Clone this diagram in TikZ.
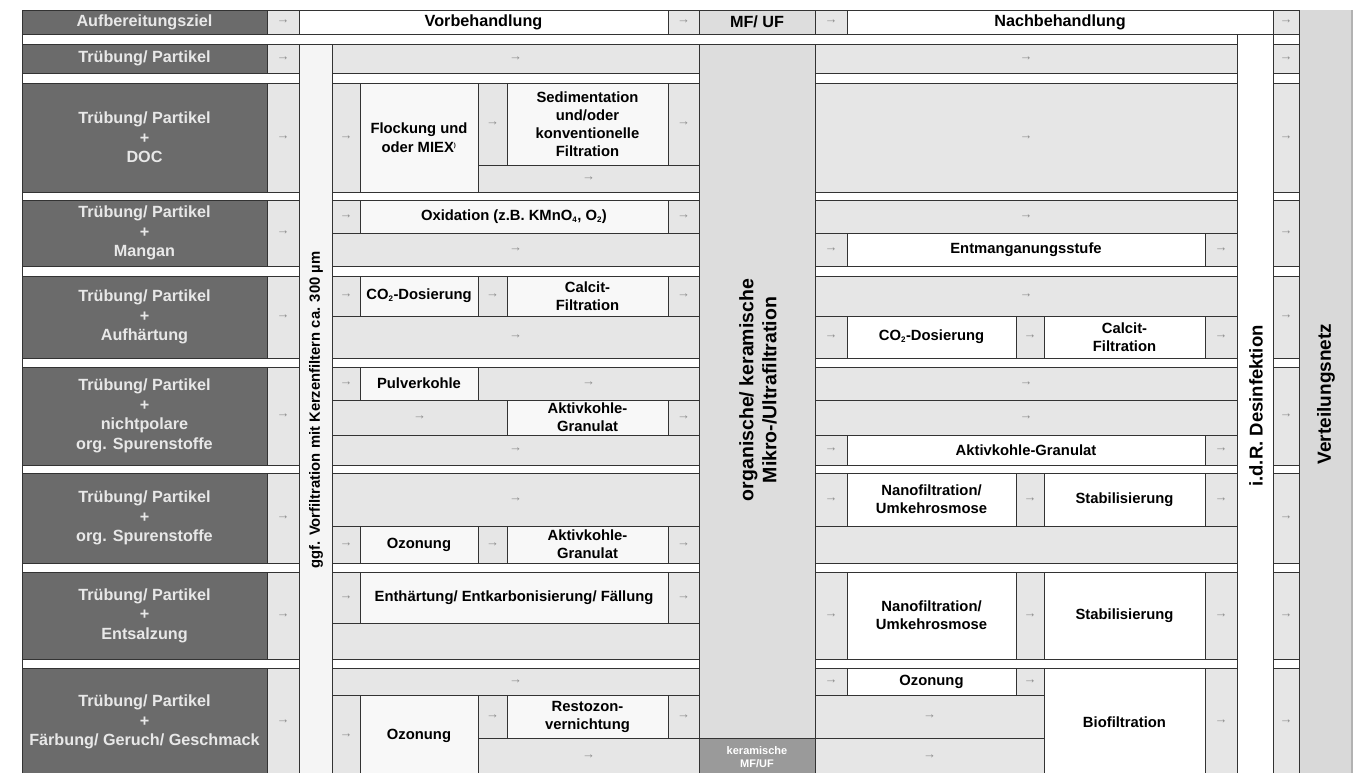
\documentclass[tikz,border=0pt]{standalone}
\usepackage{fontspec}
\setmainfont{Liberation Sans}
\definecolor{goalgray}{HTML}{6B6B6B}
\definecolor{goaltext}{HTML}{E8E8E8}
\definecolor{barfill}{HTML}{E6E6E6}
\definecolor{boxfill}{HTML}{F8F8F8}
\definecolor{prefill}{HTML}{F5F5F5}
\definecolor{mffill}{HTML}{DDDDDD}
\definecolor{kerafill}{HTML}{9A9A9A}
\definecolor{vnfill}{HTML}{D9D9D9}
\definecolor{edge}{HTML}{333333}
\definecolor{arrgray}{HTML}{8A8A8A}
\newcommand\arr{{\bfseries\fontsize{13}{13}\selectfont\color{arrgray}→}}
\newcommand\sub[1]{\textsubscript{\fontsize{8}{8}\selectfont #1}}
\tikzset{
  sz/.style 2 args={minimum width=#1pt, minimum height=#2pt},
  cell/.style={anchor=north west, inner sep=0pt, outer sep=0pt, draw=edge, line width=0.9pt},
  goal/.style={cell, fill=goalgray, text=goaltext, align=center, font=\bfseries\fontsize{16.2}{19.5}\selectfont},
  acell/.style={cell, fill=barfill},
  bar/.style={acell},
  box/.style={cell, fill=boxfill, align=center, font=\bfseries\fontsize{14.8}{18}\selectfont},
  nbox/.style={box, fill=white},
  head/.style={box, fill=white, font=\bfseries\fontsize{16.2}{19}\selectfont},
  sep/.style={cell, fill=white, line width=0.6pt},
  col/.style={cell},
  kera/.style={cell, fill=kerafill, text=white, align=center, font=\bfseries\fontsize{11}{13.5}\selectfont},
  vtext/.style 2 args={rotate=90, anchor=center, align=center, inner sep=0pt, font=\bfseries\fontsize{#1}{#2}\selectfont},
}
\begin{document}
\begin{tikzpicture}[x=1pt, y=-1pt]
\useasboundingbox (0,0) rectangle (1370,772);

\node[col, fill=prefill, sz={33}{742}] (pre) at (299,34) {};
\node[col, fill=mffill, sz={116}{742}] (mf) at (699,34) {};
\node[col, fill=white, sz={36}{742}] (des) at (1237,34) {};
\node[cell, draw=none, fill=vnfill, sz={53}{766}] (vn) at (1299,10) {};
\draw[line width=2pt, draw=black!30] (vn.north east) -- (vn.south east);

\node[goal, sz={245}{24}] (hgoal) at (22,10) {Aufbereitungsziel};
\node[acell, sz={32}{24}] (ha1) at (267,10) {\arr};
\node[head, sz={369}{24}] (hvor) at (299,10) {Vorbehandlung};
\node[acell, sz={31}{24}] (ha2) at (668,10) {\arr};
\node[head, fill=mffill, sz={116}{24}] (hmf) at (699,10) {MF/ UF};
\node[acell, sz={32}{24}] (ha3) at (815,10) {\arr};
\node[head, sz={426}{24}] (hnach) at (847,10) {Nachbehandlung};
\node[acell, sz={26}{24}] (ha4) at (1273,10) {\arr};

\node[sep, sz={1215}{10}] (s0a) at (22,34) {};
\node[sep, sz={26}{10}] (s0b) at (1273,34) {};
\foreach \y/\h [count=\i] in {73/10, 192/8, 266/10, 358/9, 465/8, 563/9, 659/9} {
  \node[sep, sz={277}{\h}] (sa\i) at (22,\y) {};
  \node[sep, sz={367}{\h}] (sb\i) at (332,\y) {};
  \node[sep, sz={422}{\h}] (sc\i) at (815,\y) {};
  \node[sep, sz={26}{\h}] (sd\i) at (1273,\y) {};
}
\foreach \y/\h [count=\i] in {44/29, 83/109, 200/66, 276/82, 367/98, 473/90, 572/87, 668/108} {
  \node[acell, sz={32}{\h}] (al\i) at (267,\y) {\arr};
  \node[acell, sz={26}{\h}] (ar\i) at (1273,\y) {\arr};
}

\node[goal, sz={245}{29}] (g1) at (22,44) {Trübung/ Partikel};
\node[bar, sz={367}{29}] (v1) at (332,44) {\arr};
\node[bar, sz={422}{29}] (n1) at (815,44) {\arr};

\node[goal, sz={245}{109}] (g2) at (22,83) {Trübung/ Partikel\\+\\DOC};
\node[acell, sz={28}{109}] (v2a) at (332,83) {\arr};
\node[box, sz={118}{109}, font=\bfseries\fontsize{14.8}{19}\selectfont] (v2b) at (360,83) {Flockung und\\oder MIEX\textsuperscript{\fontsize{6}{6}\selectfont )}};
\node[acell, sz={29}{82}] (v2c) at (478,83) {\arr};
\node[box, sz={161}{82}] (v2d) at (507,83) {Sedimentation\\und/oder\\konventionelle\\Filtration};
\node[acell, sz={31}{82}] (v2e) at (668,83) {\arr};
\node[bar, sz={221}{27}] (v2f) at (478,165) {\arr};
\node[bar, sz={422}{109}] (n2) at (815,83) {\arr};

\node[goal, sz={245}{66}] (g3) at (22,200) {Trübung/ Partikel\\+\\Mangan};
\node[acell, sz={28}{33}] (v3a) at (332,200) {\arr};
\node[box, sz={308}{33}] (v3b) at (360,200) {Oxidation (z.B. KMnO\sub{4}, O\sub{2})};
\node[acell, sz={31}{33}] (v3c) at (668,200) {\arr};
\node[bar, sz={367}{33}] (v3d) at (332,233) {\arr};
\node[bar, sz={422}{33}] (n3a) at (815,200) {\arr};
\node[acell, sz={32}{33}] (n3b) at (815,233) {\arr};
\node[nbox, sz={358}{33}] (n3c) at (847,233) {Entmanganungsstufe};
\node[acell, sz={32}{33}] (n3d) at (1205,233) {\arr};

\node[goal, sz={245}{82}] (g4) at (22,276) {Trübung/ Partikel\\+\\Aufhärtung};
\node[acell, sz={28}{40}] (v4a) at (332,276) {\arr};
\node[box, sz={118}{40}] (v4b) at (360,276) {CO\sub{2}-Dosierung};
\node[acell, sz={29}{40}] (v4c) at (478,276) {\arr};
\node[box, sz={161}{40}] (v4d) at (507,276) {Calcit-\\Filtration};
\node[acell, sz={31}{40}] (v4e) at (668,276) {\arr};
\node[bar, sz={367}{42}] (v4f) at (332,316) {\arr};
\node[bar, sz={422}{40}] (n4a) at (815,276) {\arr};
\node[acell, sz={32}{42}] (n4b) at (815,316) {\arr};
\node[nbox, sz={169}{42}] (n4c) at (847,316) {CO\sub{2}-Dosierung};
\node[acell, sz={28}{42}] (n4d) at (1016,316) {\arr};
\node[nbox, sz={161}{42}] (n4e) at (1044,316) {Calcit-\\Filtration};
\node[acell, sz={32}{42}] (n4f) at (1205,316) {\arr};

\node[goal, sz={245}{98}] (g5) at (22,367) {Trübung/ Partikel\\+\\nichtpolare\\org. Spurenstoffe};
\node[acell, sz={28}{33}] (v5a) at (332,367) {\arr};
\node[box, sz={118}{33}] (v5b) at (360,367) {Pulverkohle};
\node[bar, sz={221}{33}] (v5c) at (478,367) {\arr};
\node[bar, sz={175}{35}] (v5d) at (332,400) {\arr};
\node[box, sz={161}{35}] (v5e) at (507,400) {Aktivkohle-\\Granulat};
\node[acell, sz={31}{35}] (v5f) at (668,400) {\arr};
\node[bar, sz={367}{30}] (v5g) at (332,435) {\arr};
\node[bar, sz={422}{33}] (n5a) at (815,367) {\arr};
\node[bar, sz={422}{35}] (n5b) at (815,400) {\arr};
\node[acell, sz={32}{30}] (n5c) at (815,435) {\arr};
\node[nbox, sz={358}{30}] (n5d) at (847,435) {Aktivkohle-Granulat};
\node[acell, sz={32}{30}] (n5e) at (1205,435) {\arr};

\node[goal, sz={245}{90}] (g6) at (22,473) {Trübung/ Partikel\\+\\org. Spurenstoffe};
\node[bar, sz={367}{53}] (v6a) at (332,473) {\arr};
\node[acell, sz={28}{37}] (v6b) at (332,526) {\arr};
\node[box, sz={118}{37}] (v6c) at (360,526) {Ozonung};
\node[acell, sz={29}{37}] (v6d) at (478,526) {\arr};
\node[box, sz={161}{37}] (v6e) at (507,526) {Aktivkohle-\\Granulat};
\node[acell, sz={31}{37}] (v6f) at (668,526) {\arr};
\node[acell, sz={32}{53}] (n6a) at (815,473) {\arr};
\node[nbox, sz={169}{53}] (n6b) at (847,473) {Nanofiltration/\\Umkehrosmose};
\node[acell, sz={28}{53}] (n6c) at (1016,473) {\arr};
\node[nbox, sz={161}{53}] (n6d) at (1044,473) {Stabilisierung};
\node[acell, sz={32}{53}] (n6e) at (1205,473) {\arr};
\node[bar, sz={422}{37}] (n6f) at (815,526) {};

\node[goal, sz={245}{87}] (g7) at (22,572) {Trübung/ Partikel\\+\\Entsalzung};
\node[acell, sz={28}{51}] (v7a) at (332,572) {\arr};
\node[box, sz={308}{51}] (v7b) at (360,572) {Enthärtung/ Entkarbonisierung/ Fällung};
\node[acell, sz={31}{51}] (v7c) at (668,572) {\arr};
\node[bar, sz={367}{36}] (v7d) at (332,623) {};
\node[acell, sz={32}{87}] (n7a) at (815,572) {\arr};
\node[nbox, sz={169}{87}] (n7b) at (847,572) {Nanofiltration/\\Umkehrosmose};
\node[acell, sz={28}{87}] (n7c) at (1016,572) {\arr};
\node[nbox, sz={161}{87}] (n7d) at (1044,572) {Stabilisierung};
\node[acell, sz={32}{87}] (n7e) at (1205,572) {\arr};

\node[goal, sz={245}{108}] (g8) at (22,668) {Trübung/ Partikel\\+\\Färbung/ Geruch/ Geschmack};
\node[bar, sz={367}{27}] (v8a) at (332,668) {\arr};
\node[acell, sz={28}{81}] (v8b) at (332,695) {\arr};
\node[box, sz={118}{81}] (v8c) at (360,695) {Ozonung};
\node[acell, sz={29}{43}] (v8d) at (478,695) {\arr};
\node[box, sz={161}{43}] (v8e) at (507,695) {Restozon-\\vernichtung};
\node[acell, sz={31}{43}] (v8f) at (668,695) {\arr};
\node[bar, sz={221}{38}] (v8g) at (478,738) {\arr};
\node[kera, sz={116}{38}] (v8h) at (699,738) {keramische\\MF/UF};
\node[acell, sz={32}{27}] (n8a) at (815,668) {\arr};
\node[nbox, sz={169}{27}] (n8b) at (847,668) {Ozonung};
\node[acell, sz={28}{27}] (n8c) at (1016,668) {\arr};
\node[bar, sz={229}{43}] (n8d) at (815,695) {\arr};
\node[bar, sz={229}{38}] (n8e) at (815,738) {\arr};
\node[nbox, sz={161}{108}] (n8f) at (1044,668) {Biofiltration};
\node[acell, sz={32}{108}] (n8g) at (1205,668) {\arr};

\node[vtext={14.8}{17}] (pretxt) at (316,410) {ggf. Vorfiltration mit Kerzenfiltern ca. 300 µm};
\node[vtext={19.5}{23}] (mftxt) at (758,390) {organische/ keramische\\Mikro-/Ultrafiltration};
\node[vtext={18.5}{22}] (destxt) at (1256,406) {i.d.R. Desinfektion};
\node[vtext={19}{22}] (vntxt) at (1326,394) {Verteilungsnetz};
\end{tikzpicture}
\end{document}
